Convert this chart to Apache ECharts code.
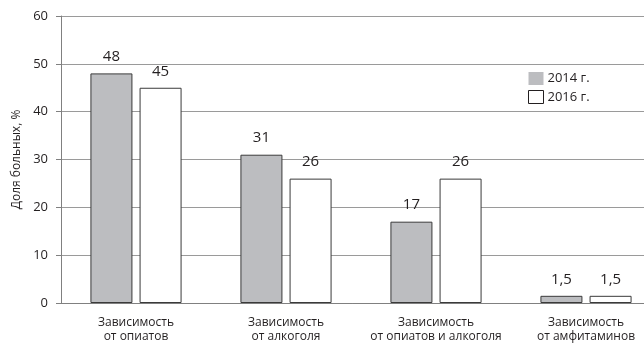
<!DOCTYPE html>
<html>
<head>
<meta charset="utf-8">
<script src="https://cdn.jsdelivr.net/npm/echarts@6/dist/echarts.min.js"></script>
<style>
  html, body { margin: 0; padding: 0; background: #fff; }
  #chart { width: 644px; height: 343px; }
</style>
</head>
<body>
<div id="chart"></div>
<script>
// данные диаграммы
const categories = [
  "Зависимость\nот опиатов",
  "Зависимость\nот алкоголя",
  "Зависимость\nот опиатов и алкоголя",
  "Зависимость\nот амфитаминов"
];
const seriesNames = ["2014 г.", "2016 г."];
const values2014 = [48, 31, 17, 1.5];
const values2016 = [45, 26, 26, 1.5];
const yTicks = [0, 10, 20, 30, 40, 50, 60];

const textColor = "#231f20";
const fontFamily = "'Open Sans', 'DejaVu Sans', sans-serif";

let myChart = echarts.init(document.getElementById("chart"));

const labelStyle = {
  show: true,
  position: "top",
  distance: 9,
  color: textColor,
  fontSize: 15,
  fontFamily: fontFamily,
  formatter: p => String(p.value).replace(".", ",")
};

myChart.setOption({
  animation: false,
  grid: { left: 61, top: 16, right: -17, bottom: 40, outerBoundsMode: "none" },
  legend: {
    orient: "vertical",
    left: 528,
    top: 72,
    padding: 0,
    itemWidth: 15,
    itemHeight: 13,
    itemGap: 5,
    icon: "rect",
    textStyle: { color: textColor, fontSize: 13, fontFamily: fontFamily, padding: [0, 0, 0, -1] },
    data: [
      { name: seriesNames[0], itemStyle: { color: "#bcbdc0", borderWidth: 0 } },
      { name: seriesNames[1], itemStyle: { color: "#fff", borderColor: "#231f20", borderWidth: 1 } }
    ]
  },
  xAxis: {
    type: "category",
    data: categories,
    axisLine: { show: true, lineStyle: { color: "#808080", width: 1 } },
    axisTick: { show: false },
    axisLabel: {
      color: textColor,
      fontSize: 12,
      fontFamily: fontFamily,
      lineHeight: 14,
      margin: 13,
      interval: 0
    }
  },
  yAxis: {
    type: "value",
    min: yTicks[0],
    max: yTicks[yTicks.length - 1],
    interval: 10,
    name: "Доля больных, %",
    nameLocation: "middle",
    nameGap: 36,
    nameTextStyle: { color: textColor, fontSize: 12, fontFamily: fontFamily },
    axisLine: { show: true, lineStyle: { color: "#808080", width: 1 } },
    axisTick: { show: true, length: 5, lineStyle: { color: "#808080" } },
    axisLabel: { color: textColor, fontSize: 13, fontFamily: fontFamily, margin: 13 },
    splitLine: { show: true, lineStyle: { color: "#9a9a9a", width: 1 } }
  },
  series: [
    {
      name: seriesNames[0],
      type: "bar",
      data: values2014,
      barWidth: 42,
      barGap: "17%",
      itemStyle: { color: "#bcbdc0", borderColor: "#3a3a3a", borderWidth: 1 },
      label: labelStyle
    },
    {
      name: seriesNames[1],
      type: "bar",
      data: values2016,
      barWidth: 42,
      barGap: "17%",
      itemStyle: { color: "#ffffff", borderColor: "#3a3a3a", borderWidth: 1 },
      label: labelStyle
    }
  ]
});
</script>
</body>
</html>
